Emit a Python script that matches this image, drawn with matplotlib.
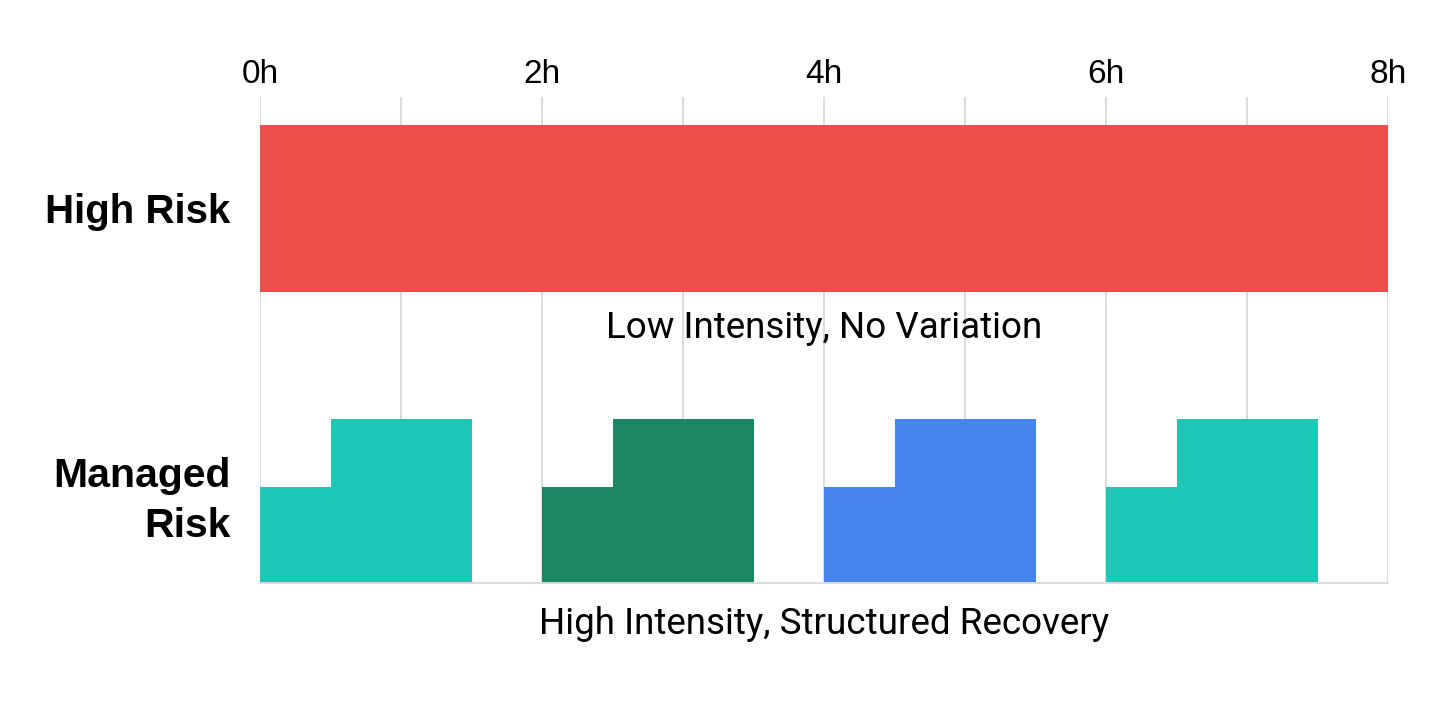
import matplotlib
matplotlib.use("Agg")
from matplotlib import pyplot as plt

# hours on the top axis
hour_ticks = [0, 2, 4, 6, 8]
hour_labels = ["0h", "2h", "4h", "6h", "8h"]
grid_hours = [1, 3, 5, 7]

# high risk: one long flat bar
high_start = 0
high_duration = 8

# managed risk: four work blocks, each a short ramp then a peak
block_starts = [0, 2, 4, 6]
block_colors = ["#1dc6b7", "#1b8862", "#4684ee", "#1dc6b7"]
ramp_duration = 0.5
peak_duration = 1.0
ramp_level = 0.585
peak_level = 1.0

row_labels = ["High Risk", "Managed\nRisk"]
notes = ["Low Intensity, No Variation", "High Intensity, Structured Recovery"]

fig = plt.figure(figsize=(14.4, 7.2), dpi=100)
ax = fig.add_axes([260/1440, 1 - 583/720, 1128/1440, 486/720])
ax.set_xlim(0, 8)
ax.set_ylim(0, 486/164)

# grid lines behind everything
for h in hour_ticks + grid_hours:
    ax.axvline(h, color="#dcdcdc", lw=1.4, zorder=0)

# high risk bar
ax.barh(2.284, high_duration, left=high_start, height=1.018,
        color="#eb4f4c", edgecolor="none", zorder=2)

# managed risk blocks
for s, c in zip(block_starts, block_colors):
    ax.bar(s, ramp_level, width=ramp_duration, align="edge",
           color=c, edgecolor="none", zorder=2)
    ax.bar(s + ramp_duration, peak_level, width=peak_duration, align="edge",
           color=c, edgecolor="none", zorder=2)

for sp in ["top", "left", "right"]:
    ax.spines[sp].set_visible(False)
ax.spines["bottom"].set_color("#dcdcdc")
ax.spines["bottom"].set_linewidth(1.4)

ax.set_yticks([])
ax.set_xticks(hour_ticks)
ax.set_xticklabels(hour_labels, fontsize=24, family="Liberation Sans")
ax.tick_params(axis="x", top=False, bottom=False, labeltop=True,
               labelbottom=False, pad=1.5)

# row labels
ax.text(-0.21, 2.26, row_labels[0], ha="right", va="center",
        fontsize=29, fontweight="bold", family="Liberation Sans")
ax.text(-0.21, 0.50, row_labels[1], ha="right", va="center",
        fontsize=29.5, fontweight="bold", family="Liberation Sans",
        linespacing=1.38)

# notes under each row
ax.text(4, 1.555, notes[0], ha="center", va="center",
        fontsize=26.5, family="Roboto", zorder=3)
ax.text(4, -0.25, notes[1], ha="center", va="center",
        fontsize=26.5, family="Roboto", clip_on=False)

fig.savefig("out.png", dpi=100, facecolor="white")
